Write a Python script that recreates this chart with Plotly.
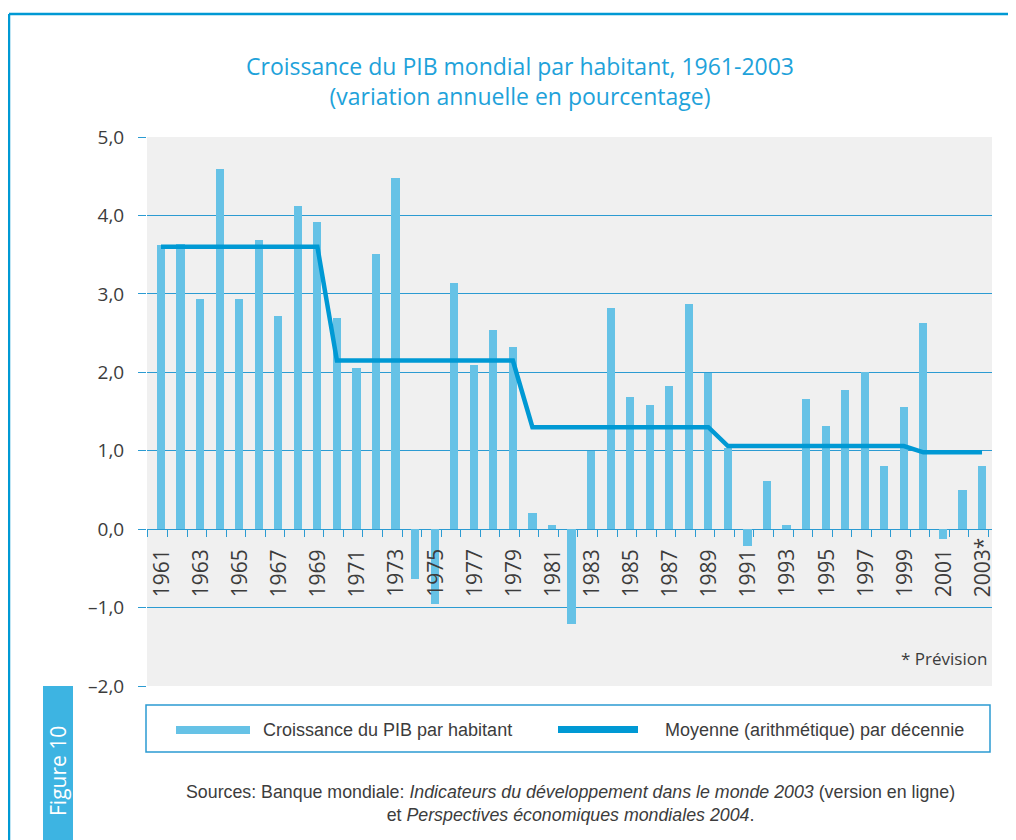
import plotly.graph_objects as go

# ---------------- data ----------------
years = list(range(1961, 2004))
growth = [3.62, 3.64, 2.93, 4.59, 2.93, 3.69, 2.72, 4.12, 3.91, 2.69,
          2.05, 3.51, 4.48, -0.63, -0.95, 3.14, 2.09, 2.54, 2.32, 0.20,
          0.05, -1.21, 1.00, 2.82, 1.69, 1.58, 1.83, 2.87, 1.99, 1.03,
          -0.22, 0.61, 0.05, 1.66, 1.31, 1.78, 2.01, 0.81, 1.56, 2.63,
          -0.13, 0.50, 0.81]
decade_starts = [1961, 1970, 1980, 1990, 2000]
decade_ends = [1969, 1979, 1989, 1999, 2003]
decade_means = [3.60, 2.15, 1.30, 1.06, 0.98]
label_years = list(range(1961, 2004, 2))
year_labels = [str(y) for y in label_years[:-1]] + ["2003*"]
y_tickvals = [5, 4, 3, 2, 1, 0, -1, -2]
y_ticktext = ["5,0", "4,0", "3,0", "2,0", "1,0", "0,0", "–1,0", "–2,0"]

title_text = ("Croissance du PIB mondial par habitant, 1961-2003<br>"
              "(variation annuelle en pourcentage)")
legend_names = ["Croissance du PIB par habitant",
                "Moyenne (arithmétique) par décennie"]
source_text = ("Sources: Banque mondiale: <i>Indicateurs du développement dans le monde 2003</i>"
               " (version en ligne)<br>et <i>Perspectives économiques mondiales 2004</i>.")

# ---------------- style ----------------
W, H = 1016, 840
OFF = 8  # page margin of the browser
# plot area in screen pixels
SL, SR, ST, SB = 147, 992, 137, 686
L, R, T, B = SL - OFF, SR - OFF, ST - OFF, SB - OFF
BAR_C = "#66c2e6"
LINE_C = "#0099d4"
GRID_C = "#2b9bd2"
TXT_C = "#3c3c3c"
TITLE_C = "#1ea2da"
FONT = "Open Sans"
FONT2 = "Liberation Sans"
Y_MIN, Y_MAX = -2, 5


def px(x):
    """screen x pixel -> paper coordinate"""
    return (x - SL) / (SR - SL)


def py(y):
    """screen y pixel -> paper coordinate"""
    return (SB - y) / (SB - ST)


line_x, line_y = [], []
for s, e, m in zip(decade_starts, decade_ends, decade_means):
    line_x += [s, e]
    line_y += [m, m]

fig = go.Figure()
fig.add_trace(go.Bar(x=years, y=growth, width=0.42, marker=dict(color=BAR_C, line=dict(width=0)),
                     name=legend_names[0], showlegend=False))
fig.add_trace(go.Scatter(x=line_x, y=line_y, mode="lines", line=dict(color=LINE_C, width=4.5),
                         name=legend_names[1], showlegend=False))

boundary_ticks = [years[0] - 1 + 0.33] + [y + 0.33 for y in years]
zero_pos = (0 - Y_MIN) / (Y_MAX - Y_MIN)

fig.update_layout(
    width=W, height=H,
    margin=dict(l=L, r=W - R, t=T, b=H - B, pad=0),
    paper_bgcolor="white", plot_bgcolor="#f0f0f0",
    font=dict(family=FONT, color=TXT_C),
    bargap=0,
    title=dict(text=title_text, x=(520 - OFF) / W, xanchor="center", xref="container",
               y=1 - (75 - OFF) / H, yanchor="middle", yref="container",
               font=dict(family=FONT, size=23, color=TITLE_C)),
    xaxis=dict(range=[years[0] - 0.716, years[-1] + 0.51], anchor="free", position=zero_pos,
               tickmode="array", tickvals=boundary_ticks, ticks="outside", ticklen=7,
               tickcolor=GRID_C, tickwidth=1, showticklabels=False, showgrid=False,
               zeroline=False, showline=False, fixedrange=True),
    yaxis=dict(range=[Y_MIN, Y_MAX], tickmode="array", tickvals=y_tickvals, ticktext=y_ticktext,
               ticks="outside", ticklen=8, tickcolor=GRID_C, tickwidth=1,
               showgrid=True, gridcolor=GRID_C, gridwidth=1, zeroline=False, showline=False,
               tickfont=dict(size=19, color=TXT_C), ticklabelstandoff=10),
)

annotations = []
for yv, lab in zip(label_years, year_labels):
    annotations.append(dict(x=yv, y=0, xref="x", yref="y", text=lab, textangle=-90,
                            showarrow=False, xanchor="center", yanchor="bottom", yshift=-70,
                            font=dict(size=21, color=TXT_C)))
annotations.append(dict(x=px(989), y=py(658), xref="paper", yref="paper", text="* Prévision",
                        showarrow=False, xanchor="right", yanchor="middle",
                        font=dict(size=17, color=TXT_C)))
annotations.append(dict(x=px(261), y=py(730), xref="paper", yref="paper", text=legend_names[0],
                        showarrow=False, xanchor="left", yanchor="middle",
                        font=dict(family=FONT2, size=18, color=TXT_C)))
annotations.append(dict(x=px(663), y=py(730), xref="paper", yref="paper", text=legend_names[1],
                        showarrow=False, xanchor="left", yanchor="middle",
                        font=dict(family=FONT2, size=18, color=TXT_C)))
annotations.append(dict(x=px(570), y=py(803), xref="paper", yref="paper", text=source_text,
                        showarrow=False, xanchor="center", yanchor="middle", align="center",
                        font=dict(family=FONT2, size=17.8, color=TXT_C)))
annotations.append(dict(x=px(58), y=py(771), xref="paper", yref="paper", text="Figure 10",
                        textangle=-90, showarrow=False, xanchor="center", yanchor="middle",
                        font=dict(size=21, color="white")))
fig.update_layout(annotations=annotations)

shapes = [
    # outer frame
    dict(type="line", xref="paper", yref="paper", x0=px(9), x1=px(9), y0=py(850), y1=py(14),
         line=dict(color=LINE_C, width=2.5)),
    dict(type="line", xref="paper", yref="paper", x0=px(9), x1=px(1030), y0=py(14), y1=py(14),
         line=dict(color=LINE_C, width=2.5)),
    # figure label box
    dict(type="rect", xref="paper", yref="paper", x0=px(43), x1=px(73), y0=py(686), y1=py(850),
         fillcolor="#3db4e2", line=dict(width=0), layer="below"),
    # legend box and swatches
    dict(type="rect", xref="paper", yref="paper", x0=px(146), x1=px(990), y0=py(705), y1=py(752),
         fillcolor="white", line=dict(color=GRID_C, width=1.5), layer="below"),
    dict(type="rect", xref="paper", yref="paper", x0=px(176), x1=px(250), y0=py(726), y1=py(734),
         fillcolor=BAR_C, line=dict(width=0)),
    dict(type="rect", xref="paper", yref="paper", x0=px(558), x1=px(638), y0=py(726), y1=py(733),
         fillcolor=LINE_C, line=dict(width=0)),
]
fig.update_layout(shapes=shapes)

fig.write_html("out.html")
